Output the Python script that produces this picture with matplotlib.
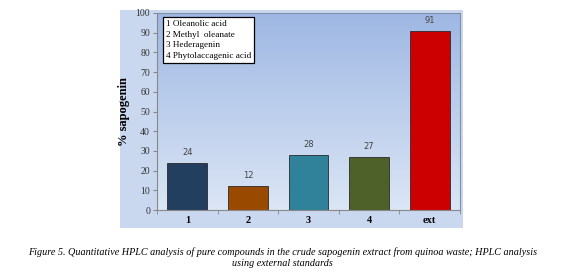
import numpy as np
import matplotlib.pyplot as plt
from matplotlib.patches import Rectangle

categories = ['1', '2', '3', '4', 'ext']
values = [24, 12, 28, 27, 91]
colors = ['#233F60', '#994A00', '#30819A', '#4D6129', '#CC0000']
legend_lines = ['1 Oleanolic acid', '2 Methyl  oleanate', '3 Hederagenin', '4 Phytolaccagenic acid']
caption = ('Figure 5. Quantitative HPLC analysis of pure compounds in the crude sapogenin extract from quinoa waste; HPLC analysis\n'
           'using external standards')

serif = ['Liberation Serif', 'DejaVu Serif']

fig = plt.figure(figsize=(5.65, 2.77), dpi=100)
fig.patch.set_facecolor('white')

# chart area background
fig.patches.append(Rectangle((120 / 565, 49 / 277), 343 / 565, 218 / 277,
                             transform=fig.transFigure, facecolor='#C9D8EF',
                             edgecolor='none', zorder=0))

ax = fig.add_axes([157 / 565, 67 / 277, 303 / 565, 197 / 277])
ax.set_zorder(1)

# gradient of the plot area
grad = np.linspace(0, 1, 200).reshape(-1, 1)
top = np.array([0.62, 0.72, 0.89])
bot = np.array([0.86, 0.90, 0.96])
img = top + (bot - top) * grad[:, :, None]
ax.imshow(img, extent=(-0.5, 4.5, 0, 100), aspect='auto', zorder=0, origin='upper')

x = np.arange(len(categories))
bars = ax.bar(x, values, width=0.66, color=colors, edgecolor='#2A2A2A', linewidth=0.6, zorder=2)
for xi, v in zip(x, values):
    ax.text(xi, v + 3, str(v), ha='center', va='bottom', fontsize=6, color='#444444')

ax.set_xlim(-0.5, 4.5)
ax.set_ylim(0, 100)
ax.set_yticks(range(0, 101, 10))
ax.set_xticks(x)
ax.set_xticklabels(categories, fontsize=7.5, fontweight='bold', family=serif)
ax.set_xticks(np.arange(-0.5, 4.6, 1), minor=True)
ax.tick_params(axis='x', which='major', length=0, pad=4)
ax.tick_params(axis='x', which='minor', length=3, color='#888888')
ax.tick_params(axis='y', length=3, color='#888888', labelsize=7, pad=2, labelcolor='#333333')
for lab in ax.get_yticklabels():
    lab.set_family(serif)
for s in ax.spines.values():
    s.set_color('#8090A8')
    s.set_linewidth(0.8)
ax.spines['left'].set_color('#888888')
ax.spines['bottom'].set_color('#888888')

ax.set_ylabel('% sapogenin', fontsize=9, fontweight='bold', family=serif, labelpad=4)

# legend box with text list
leg_text = '\n'.join(legend_lines)
ax.text(0.03, 0.965, leg_text, transform=ax.transAxes, ha='left', va='top',
        fontsize=6.6, family=serif, linespacing=1.45, zorder=5,
        bbox=dict(boxstyle='square,pad=0.3', facecolor='white', edgecolor='black', linewidth=0.9))

fig.text(0.5, 0.0704, caption, ha='center', va='center', fontsize=7.3,
         style='italic', family=serif, linespacing=1.25)

fig.savefig('out.png', dpi=100)
